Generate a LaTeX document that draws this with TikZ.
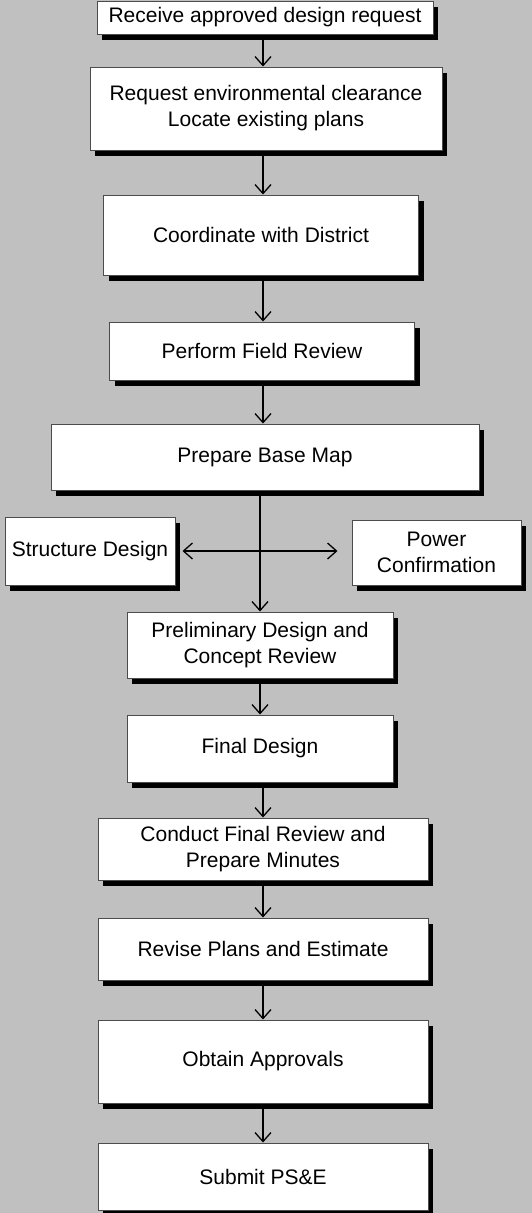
\documentclass[tikz,border=0pt]{standalone}
\usepackage{fontspec}
\setmainfont{Liberation Sans}
\usetikzlibrary{arrows.meta, positioning, shadows}
\definecolor{pagegray}{RGB}{192,192,192}

\begin{document}
\begin{tikzpicture}[x=1pt, y=-1pt,
  box/.style={rectangle, draw=black!70, line width=1pt, fill=white, inner sep=0pt,
    align=center, font=\fontsize{21}{26}\selectfont,
    drop shadow={shadow xshift=5pt, shadow yshift=-6pt, fill=black, opacity=1}},
  flow/.style={line width=1.3pt, -{Straight Barb[length=9pt, width=16pt, line width=1.3pt]}},
  both/.style={line width=1.3pt, {Straight Barb[length=9pt, width=16pt, line width=1.3pt]}-{Straight Barb[length=9pt, width=16pt, line width=1.3pt]}}]

\fill[pagegray] (0,0) rectangle (532,1213);
\useasboundingbox (0,0) rectangle (532,1213);
\coordinate (spine) at (263,0);

% --- main column ---
\node[box, minimum width=336pt, minimum height=33pt] (receive) at (265,17.5) {Receive approved design request};
\node[box, minimum width=352pt, minimum height=83pt] (request) at (266,108.5) {Request environmental clearance\\Locate existing plans};
\node[box, minimum width=315pt, minimum height=80pt] (district) at (261,235) {Coordinate with District};
\node[box, minimum width=305pt, minimum height=58pt] (field) at (262,351) {Perform Field Review};
\node[box, minimum width=428pt, minimum height=66pt] (basemap) at (265,457) {Prepare Base Map};

% --- side boxes ---
\node[box, minimum width=170pt, minimum height=68pt] (structure) at (90,551) {Structure Design};
\node[box, minimum width=169pt, minimum height=65pt] (power) at (436.5,552.5) {Power\\Confirmation};

% --- lower column ---
\node[box, minimum width=266pt, minimum height=66pt] (prelim) at (260,645) {Preliminary Design and\\Concept Review};
\node[box, minimum width=266pt, minimum height=67pt] (final) at (260,748.5) {Final Design};
\node[box, minimum width=330pt, minimum height=62pt] (conduct) at (263,849) {Conduct Final Review and\\Prepare Minutes};
\node[box, minimum width=330pt, minimum height=62pt] (revise) at (263,949) {Revise Plans and Estimate};
\node[box, minimum width=330pt, minimum height=83pt] (obtain) at (263,1061.5) {Obtain Approvals};
\node[box, minimum width=330pt, minimum height=67pt] (submit) at (263,1176.5) {Submit PS\&E};

% --- connectors ---
\draw[flow] (receive.south -| spine) -- (request.north -| spine);
\draw[flow] (request.south -| spine) -- (district.north -| spine);
\draw[flow] (district.south -| spine) -- (field.north -| spine);
\draw[flow] (field.south -| spine) -- (basemap.north -| spine);
\draw[flow] (basemap.south -| prelim) -- (prelim);
\draw[both, shorten <=7pt, shorten >=14pt] (structure.east) -- (structure.east -| power.west);
\draw[flow] (prelim) -- (final);
\draw[flow] (final.south -| spine) -- (conduct.north -| spine);
\draw[flow] (conduct.south -| spine) -- (revise.north -| spine);
\draw[flow] (revise.south -| spine) -- (obtain.north -| spine);
\draw[flow] (obtain.south -| spine) -- (submit.north -| spine);

\end{tikzpicture}
\end{document}
